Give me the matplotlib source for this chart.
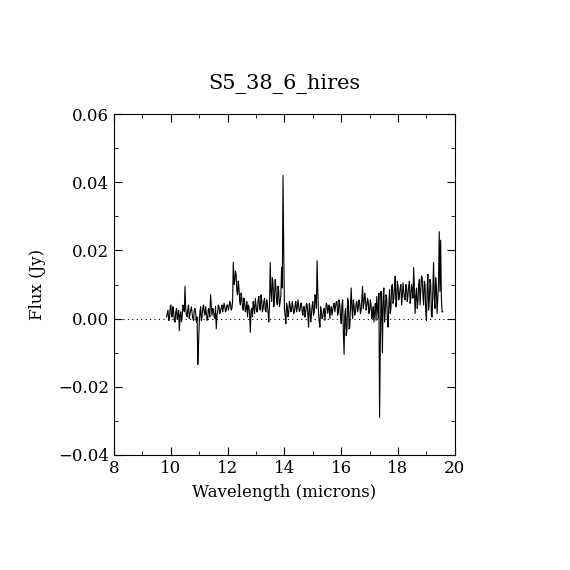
import numpy as np
import matplotlib.pyplot as plt
from matplotlib.ticker import MultipleLocator

# spectrum (wavelength in microns, flux in mJy)
wave = [9.85, 9.90, 9.95, 10.00, 10.05, 10.10, 10.15, 10.20, 10.25, 10.30,
        10.35, 10.40, 10.45, 10.50, 10.55, 10.60, 10.65, 10.70, 10.75, 10.80,
        10.85, 10.90, 10.95, 11.00, 11.05, 11.10, 11.15, 11.20, 11.25, 11.30,
        11.35, 11.40, 11.45, 11.50, 11.55, 11.60, 11.65, 11.70, 11.75, 11.80,
        11.85, 11.90, 11.95, 12.00, 12.05, 12.10, 12.15, 12.20, 12.25, 12.30,
        12.35, 12.40, 12.45, 12.50, 12.55, 12.60, 12.65, 12.70, 12.75, 12.80,
        12.85, 12.90, 12.95, 13.00, 13.05, 13.10, 13.15, 13.20, 13.25, 13.30,
        13.35, 13.40, 13.45, 13.50, 13.55, 13.60, 13.65, 13.70, 13.75, 13.80,
        13.85, 13.90, 13.95, 14.00, 14.05, 14.10, 14.15, 14.20, 14.25, 14.30,
        14.35, 14.40, 14.45, 14.50, 14.55, 14.60, 14.65, 14.70, 14.75, 14.80,
        14.85, 14.90, 14.95, 15.00, 15.05, 15.10, 15.15, 15.20, 15.25, 15.30,
        15.35, 15.40, 15.45, 15.50, 15.55, 15.60, 15.65, 15.70, 15.75, 15.80,
        15.85, 15.90, 15.95, 16.00, 16.05, 16.10, 16.15, 16.20, 16.25, 16.30,
        16.35, 16.40, 16.45, 16.50, 16.55, 16.60, 16.65, 16.70, 16.75, 16.80,
        16.85, 16.90, 16.95, 17.00, 17.05, 17.10, 17.15, 17.20, 17.25, 17.30,
        17.35, 17.40, 17.45, 17.50, 17.55, 17.60, 17.65, 17.70, 17.75, 17.80,
        17.85, 17.90, 17.95, 18.00, 18.05, 18.10, 18.15, 18.20, 18.25, 18.30,
        18.35, 18.40, 18.45, 18.50, 18.55, 18.60, 18.65, 18.70, 18.75, 18.80,
        18.85, 18.90, 18.95, 19.00, 19.05, 19.10, 19.15, 19.20, 19.25, 19.30,
        19.35, 19.40, 19.45, 19.50, 19.55]

flux_mjy = [0.5, 2.5, -0.5, 4.0, 0.5, 2.0, -1.0, 3.0, 1.0, -3.5,
            2.0, 0.5, 3.5, 9.5, 1.0, 3.0, 0.0, 2.5, 1.5, -0.5,
            3.0, -1.0, -13.5, -1.5, 3.5, 0.5, 4.0, 1.0, 2.0, 0.0,
            2.5, 7.0, 1.0, 2.5, 0.0, -3.0, 2.0, 3.5, 2.5, 4.0,
            3.0, 3.5, 2.5, 4.0, 3.5, 4.5, 3.0, 16.5, 11.0, 13.0,
            7.0, 9.0, 4.0, 6.0, 2.5, 4.5, 3.0, 0.5, 3.5, -4.0,
            3.0, 5.0, 1.5, 4.0, 2.0, 6.5, 2.5, 5.5, 3.0, 6.0,
            2.0, 4.5, -1.0, 16.5, 5.0, 10.0, 6.0, 9.0, 4.0, 8.0,
            5.0, 15.0, 42.0, 3.0, -1.5, 3.5, 1.5, 4.0, 2.5, 3.5,
            2.0, 5.0, 3.0, 4.0, 2.5, 4.5, 1.0, 3.5, 2.0, 4.0,
            -2.5, 3.0, 1.0, 5.0, 2.0, 6.0, 17.0, 1.5, -2.5, 2.0,
            0.5, 3.0, 2.0, 4.0, 3.0, 0.0, 3.5, 2.5, 4.5, 3.5,
            5.0, 2.0, 4.0, -1.5, 5.5, -10.5, 3.0, -3.5, 5.0, -2.5,
            9.0, 0.0, 4.0, 2.0, 5.0, 3.0, 4.5, 2.5, 9.5, 4.5,
            6.0, 3.5, 5.0, 2.5, 4.0, 1.0, -1.0, 4.5, 6.5, 0.0,
            -29.0, 8.0, -10.0, 9.0, 2.0, 6.0, -2.5, 8.5, 3.0, 10.0,
            6.0, 12.5, 5.0, 9.5, 7.0, 10.0, 6.5, 8.0, 5.5, 9.0,
            7.0, 11.0, 6.0, 8.5, 15.0, 1.5, 9.0, 5.0, 11.5, 8.0,
            12.0, 4.0, 10.0, -0.5, 13.0, 5.0, 10.0, 0.5, 16.5, 3.0,
            9.0, 6.0, 25.5, 23.0, 2.0]

# in-between samples, also (the noise is dense)
wave_mid = [9.875, 9.925, 9.975, 10.025, 10.075, 10.125, 10.175, 10.225, 10.275, 10.325,
            10.375, 10.425, 10.475, 10.525, 10.575, 10.625, 10.675, 10.725, 10.775, 10.825,
            10.875, 10.925, 10.975, 11.025, 11.075, 11.125, 11.175, 11.225, 11.275, 11.325,
            11.375, 11.425, 11.475, 11.525, 11.575, 11.625, 11.675, 11.725, 11.775, 11.825,
            11.875, 11.925, 11.975, 12.025, 12.075, 12.125, 12.175, 12.225, 12.275, 12.325,
            12.375, 12.425, 12.475, 12.525, 12.575, 12.625, 12.675, 12.725, 12.775, 12.825,
            12.875, 12.925, 12.975, 13.025, 13.075, 13.125, 13.175, 13.225, 13.275, 13.325,
            13.375, 13.425, 13.475, 13.525, 13.575, 13.625, 13.675, 13.725, 13.775, 13.825,
            13.875, 13.925, 13.975, 14.025, 14.075, 14.125, 14.175, 14.225, 14.275, 14.325,
            14.375, 14.425, 14.475, 14.525, 14.575, 14.625, 14.675, 14.725, 14.775, 14.825,
            14.875, 14.925, 14.975, 15.025, 15.075, 15.125, 15.175, 15.225, 15.275, 15.325,
            15.375, 15.425, 15.475, 15.525, 15.575, 15.625, 15.675, 15.725, 15.775, 15.825,
            15.875, 15.925, 15.975, 16.025, 16.075, 16.125, 16.175, 16.225, 16.275, 16.325,
            16.375, 16.425, 16.475, 16.525, 16.575, 16.625, 16.675, 16.725, 16.775, 16.825,
            16.875, 16.925, 16.975, 17.025, 17.075, 17.125, 17.175, 17.225, 17.275, 17.325,
            17.375, 17.425, 17.475, 17.525, 17.575, 17.625, 17.675, 17.725, 17.775, 17.825,
            17.875, 17.925, 17.975, 18.025, 18.075, 18.125, 18.175, 18.225, 18.275, 18.325,
            18.375, 18.425, 18.475, 18.525, 18.575, 18.625, 18.675, 18.725, 18.775, 18.825,
            18.875, 18.925, 18.975, 19.025, 19.075, 19.125, 19.175, 19.225, 19.275, 19.325,
            19.375, 19.425, 19.475, 19.525, 19.575]

flux_mid_mjy = [1.5, -0.5, 3.0, 1.0, 3.5, -0.5, 2.0, 0.0, 2.5, 1.0,
                -1.0, 4.0, 2.0, 3.0, 0.5, 4.0, 1.5, 3.5, 0.0, 2.5,
                1.5, 0.5, -8.0, 2.0, -0.5, 3.0, 2.0, 3.5, -0.5, 3.0,
                0.5, 4.0, 3.0, 0.5, 3.5, 1.0, 4.0, 1.5, 3.0, 2.0,
                4.5, 2.0, 4.0, 2.5, 5.0, 2.5, 5.0, 10.0, 14.0, 8.0,
                11.0, 5.0, 7.5, 3.5, 6.0, 2.0, 5.0, 4.0, 1.0, 2.5,
                0.5, 3.5, 6.0, 2.0, 5.5, 3.0, 7.0, 2.0, 5.0, 2.5,
                5.5, 1.5, 4.0, 8.0, 12.0, 3.5, 11.5, 5.0, 9.5, 3.5,
                7.0, 9.0, 20.0, 1.0, 4.5, 0.5, 5.0, 2.0, 5.0, 1.5,
                4.0, 2.0, 5.5, 2.0, 4.5, 2.0, 3.5, 0.5, 4.5, 1.0,
                4.5, -1.0, 4.0, 1.0, 7.0, 3.0, 8.0, -1.0, 3.5, 0.0,
                2.5, -0.5, 4.5, 1.5, 4.0, 2.5, 1.0, 4.0, 2.0, 5.0,
                1.0, 5.5, 0.5, 4.0, -4.0, 1.0, -5.0, 6.0, -3.0, 4.0,
                3.0, 5.5, 1.0, 4.5, 2.0, 5.5, 1.5, 6.0, 3.0, 7.5,
                2.5, 6.0, 1.5, 5.5, 0.0, 3.5, 2.0, -0.5, 3.0, 7.5,
                -8.0, 4.0, 6.5, -1.0, 7.0, 0.0, 4.0, 1.5, 9.5, 4.5,
                9.0, 3.5, 11.0, 5.5, 9.0, 4.0, 10.5, 6.0, 10.0, 5.0,
                9.5, 4.5, 10.0, 6.0, 9.0, 6.5, 3.0, 10.0, 4.0, 12.5,
                7.0, 11.0, 2.0, 9.0, 2.5, 11.5, 1.0, 8.5, 6.0, 12.0,
                1.5, 10.5, 8.0, 6.0, 2.0]

# merge both sample sets into one wavelength-ordered spectrum
all_wave = np.concatenate([wave, wave_mid])
all_flux = np.concatenate([flux_mjy, flux_mid_mjy]) / 1000.0
order = np.argsort(all_wave)
all_wave = all_wave[order]
all_flux = all_flux[order]

plt.rcParams['font.family'] = ['DejaVu Serif']

fig = plt.figure(figsize=(5.7, 5.7), dpi=100)
ax = fig.add_axes([0.2, 0.2018, 0.598, 0.598])

ax.plot(all_wave, all_flux, color='black', linewidth=0.8)
ax.axhline(0.0, color='black', linestyle=(0, (1, 3)), linewidth=0.8)

ax.set_xlim(8, 20)
ax.set_ylim(-0.04, 0.06)
ax.xaxis.set_major_locator(MultipleLocator(2))
ax.xaxis.set_minor_locator(MultipleLocator(1))
ax.yaxis.set_major_locator(MultipleLocator(0.02))
ax.yaxis.set_minor_locator(MultipleLocator(0.01))
ax.yaxis.set_major_formatter(plt.FuncFormatter(lambda v, p: ('%.2f' % v).replace('-', '\u2212')))
ax.tick_params(which='both', direction='in', top=True, right=True, labelsize=12)
ax.tick_params(which='major', length=6)
ax.tick_params(which='minor', length=3)

ax.set_title('S5_38_6_hires', fontsize=15, pad=18)
ax.set_xlabel('Wavelength (microns)', fontsize=12, labelpad=5)
ax.set_ylabel('Flux (Jy)', fontsize=12, labelpad=9)

plt.savefig('out.png')
